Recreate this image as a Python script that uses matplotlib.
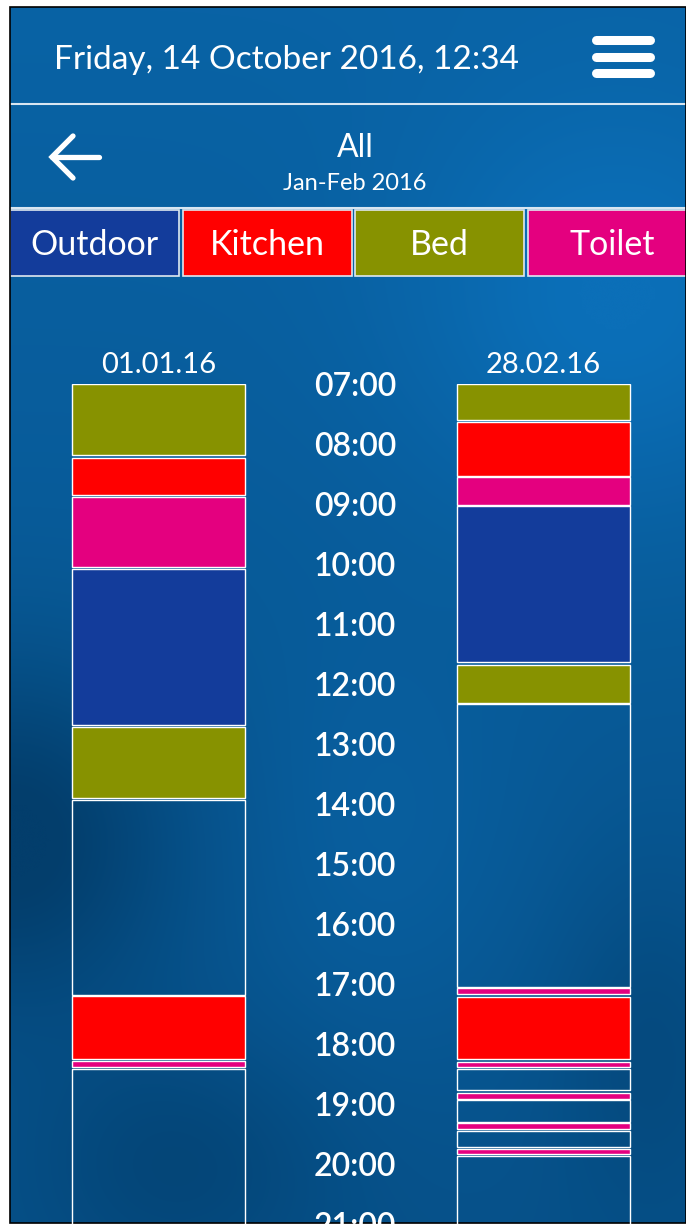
import numpy as np
import matplotlib.pyplot as plt
from matplotlib.patches import Rectangle

W, H = 686, 1225

# header texts
title = 'Friday, 14 October 2016, 12:34'
room = 'All'
period = 'Jan-Feb 2016'

# categories and their colours
categories = ['Outdoor', 'Kitchen', 'Bed', 'Toilet']
cat_colors = ['#133c9b', '#ff0000', '#879200', '#e4007f']

# days shown as columns
days = ['01.01.16', '28.02.16']

# time axis labels
hours = list(range(7, 22))
hour_labels = ['%02d:00' % h for h in hours]

# activity segments per day (start, end, room); None = no activity recorded
day1_start = ['07:00', '08:14', '08:53', '10:05', '12:43', '13:56', '17:12', '18:17', '18:25']
day1_end = ['08:11', '08:51', '10:03', '12:41', '13:54', '17:11', '18:15', '18:23', '21:30']
day1_room = ['Bed', 'Kitchen', 'Toilet', 'Outdoor', 'Bed', None, 'Kitchen', 'Toilet', None]

day2_start = ['07:00', '07:38', '08:33', '09:02', '11:41', '12:20', '17:04', '17:13', '18:18',
              '18:25', '18:49', '18:56', '19:19', '19:27', '19:45', '19:52']
day2_end = ['07:36', '08:32', '09:01', '11:38', '12:19', '17:03', '17:10', '18:15', '18:23',
            '18:46', '18:55', '19:18', '19:25', '19:43', '19:50', '21:30']
day2_room = ['Bed', 'Kitchen', 'Toilet', 'Outdoor', 'Bed', None, 'Toilet', 'Kitchen', 'Toilet',
             None, 'Toilet', None, 'Toilet', None, 'Toilet', None]


def to_hours(s):
    hh, mm = s.split(':')
    return int(hh) + int(mm) / 60.0


plt.rcParams['font.family'] = ['Lato', 'DejaVu Sans']

fig = plt.figure(figsize=(W / 100, H / 100), dpi=100, facecolor='white')

# background panel, pixel coordinates
bg = fig.add_axes([0, 0, 1, 1])
bg.set_xlim(0, W)
bg.set_ylim(H, 0)
bg.axis('off')

ny, nx = 240, 140
yy, xx = np.mgrid[0:1:ny * 1j, 0:1:nx * 1j]
d = (0.25 + 0.35 * yy
     + 0.55 * np.exp(-((xx - 0.0) ** 2 / 0.06 + (yy - 0.68) ** 2 / 0.02))
     + 0.25 * np.exp(-((xx - 0.25) ** 2 / 0.05 + (yy - 0.95) ** 2 / 0.01))
     - 0.35 * np.exp(-((xx - 0.9) ** 2 / 0.1 + (yy - 0.25) ** 2 / 0.03))
     - 0.15 * np.exp(-((xx - 0.55) ** 2 / 0.05 + (yy - 0.7) ** 2 / 0.03))
     + 0.2 * np.exp(-((xx - 0.95) ** 2 / 0.02 + (yy - 0.85) ** 2 / 0.02)))
d = np.clip(d, 0, 1)[..., None]
light = np.array([0x0b, 0x6f, 0xb8]) / 255
dark = np.array([0x03, 0x3e, 0x6c]) / 255
img = light * (1 - d) + dark * d
bg.imshow(img, extent=(10, W, 1223, 7), aspect='auto', interpolation='bicubic', zorder=0)
bg.add_patch(Rectangle((10, 7), W - 10, 1216, fill=False, edgecolor='black', linewidth=1.2, zorder=5))

# header
bg.text(54, 60, title, color='white', fontsize=24, ha='left', va='center', zorder=3)
for y in (40, 57, 73):
    bg.plot([596, 650], [y, y], color='white', linewidth=6.5, solid_capstyle='round', zorder=3)
bg.plot([10, W], [104, 104], color='#d8e6f2', linewidth=1.5, zorder=3)
bg.plot([10, W], [208, 208], color='#d8e6f2', linewidth=1.5, zorder=3)

# back arrow
bg.plot([52, 99], [157, 157], color='white', linewidth=3.8, solid_capstyle='round', zorder=3)
bg.plot([73, 52, 73], [136, 157, 178], color='white', linewidth=3.8,
        solid_capstyle='round', solid_joinstyle='miter', zorder=3)
bg.text(355, 148, room, color='white', fontsize=23, ha='center', va='center', zorder=3)
bg.text(355, 183, period, color='white', fontsize=17, ha='center', va='center', zorder=3)

# legend row
for i, (cat, col) in enumerate(zip(categories, cat_colors)):
    x0 = 10 + i * 172.5
    bg.add_patch(Rectangle((x0, 210), 169, 66, facecolor=col, edgecolor='#dfe8f0',
                           linewidth=1.2, zorder=3))
    bg.text(x0 + 84.5, 245, cat, color='white', fontsize=24.5, ha='center', va='center', zorder=4)

# timeline chart
color_of = dict(zip(categories, cat_colors))
top_px, hour_px = 384, 60.0
ax = fig.add_axes([0, 0, 1, 1 - top_px / H])
ax.patch.set_alpha(0)
ax.set_ylim(7 + (H - top_px) / hour_px, 7)
ax.set_xlim(-158.5 / 385, (W - 158.5) / 385)
bar_w = 173 / 385

for xi, (st, en, rm) in enumerate([(day1_start, day1_end, day1_room),
                                   (day2_start, day2_end, day2_room)]):
    s = np.array([to_hours(v) for v in st])
    e = np.array([to_hours(v) for v in en])
    fc = [color_of[r] if r else 'none' for r in rm]
    ax.bar([xi] * len(s), e - s, bottom=s, width=bar_w, color=fc,
           edgecolor='white', linewidth=1.0, zorder=2)

for h, lab in zip(hours, hour_labels):
    ax.text(0.51, h + 0.05, lab, color='white', fontsize=23, fontweight='semibold',
            ha='center', va='center')

ax.xaxis.tick_top()
ax.set_xticks([0, 1])
ax.set_xticklabels(days, color='white', fontsize=21)
ax.tick_params(axis='x', length=0, pad=4)
ax.set_yticks([])
for sp in ax.spines.values():
    sp.set_visible(False)

fig.savefig('out.png', dpi=100, facecolor='white')
